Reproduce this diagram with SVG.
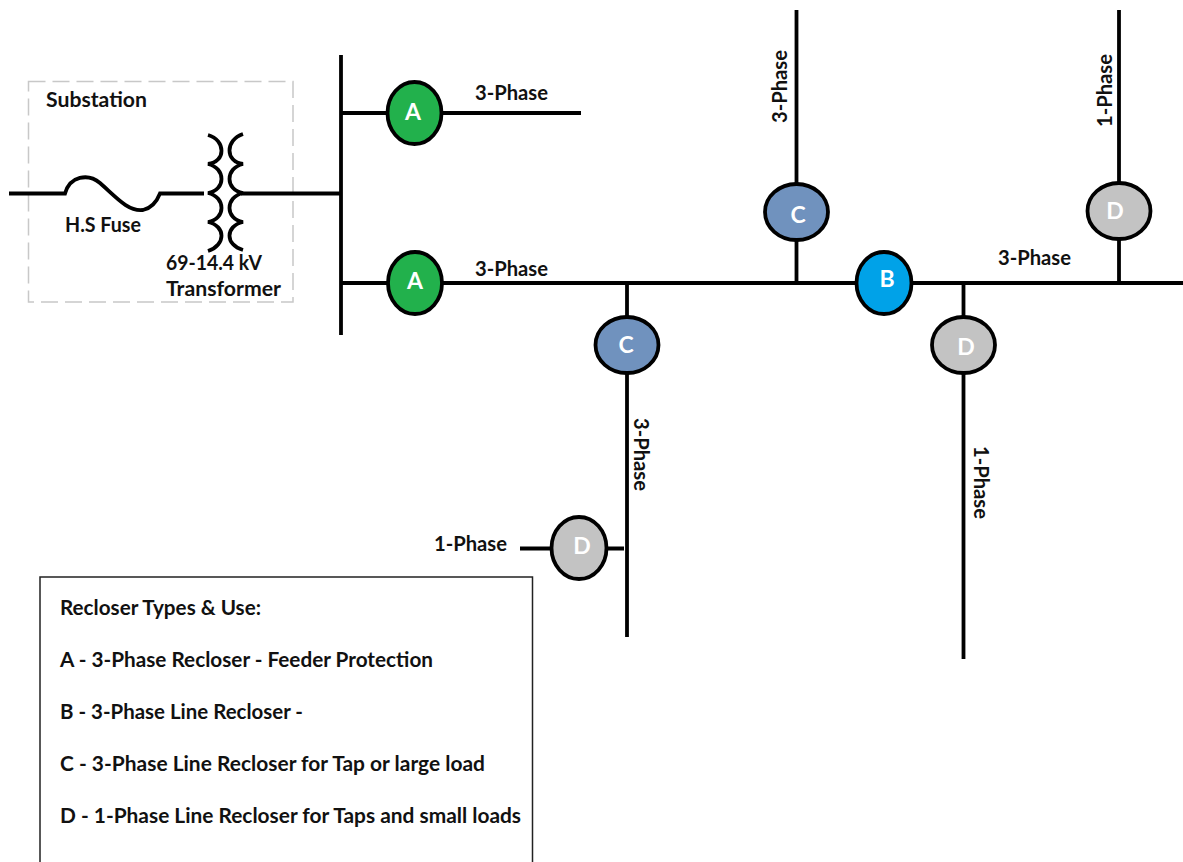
<svg xmlns="http://www.w3.org/2000/svg" width="1183" height="862" viewBox="0 0 1183 862">
<style>
text{font-family:Lato,"Liberation Sans",sans-serif;font-weight:700;font-size:20px;fill:#111}
.w{stroke:#000;stroke-width:3.8;fill:none}
.n{stroke:#000;stroke-width:3.8}
.l{font-size:23px;fill:#fff;text-anchor:middle;font-weight:700}
.a{fill:#22b14c}.b{fill:#00a2e8}.c{fill:#7092be}.d{fill:#c3c3c3}
</style>
<rect width="1183" height="862" fill="#fff"/>
<g id="substation">
<rect x="28.500" y="81.500" width="264.500" height="220.500" fill="none" stroke="#c8c8c8" stroke-width="1.500" stroke-dasharray="17 7"/>
<text x="46" y="107" textLength="101" lengthAdjust="spacingAndGlyphs">Substation</text>
<text x="65" y="232" textLength="76" lengthAdjust="spacingAndGlyphs">H.S Fuse</text>
<text x="166" y="270" textLength="96" lengthAdjust="spacingAndGlyphs">69-14.4 kV</text>
<text x="166" y="296" textLength="115" lengthAdjust="spacingAndGlyphs">Transformer</text>
</g>
<g id="connectors">
<path class="w" d="M9 193.500H65C70 176 88 173 100 183C115 196 128 212 143 210C152 208 157 201 160 193.500H204"/>
<path class="w" d="M208 135C226 140 226 162 208 164C226 168 226 190 208 193C226 197 226 219 208 222C226 226 226 245 208 251"/>
<path class="w" d="M243 134C225 140 225 162 243 164C225 168 225 190 243 193C225 197 225 219 243 222C225 226 225 245 243 250"/>
<path class="w" d="M241 193.500H341"/>
<path class="w" d="M341 55V335"/>
<path class="w" d="M341 113H581"/>
<path class="w" d="M341 283H1183"/>
<path class="w" d="M796.500 10V285"/>
<path class="w" d="M1119 10V285"/>
<path class="w" d="M627 283V637"/>
<path class="w" d="M963.500 283V659"/>
<path class="w" d="M520 548.500H550M607 548.500H624"/>
</g>
<g id="recloser-a1"><ellipse class="n a" cx="414.500" cy="113" rx="27" ry="31"/><text class="l" x="413" y="120">A</text></g>
<g id="recloser-a2"><ellipse class="n a" cx="415" cy="283" rx="27" ry="31"/><text class="l" x="415" y="289">A</text></g>
<g id="recloser-c1"><ellipse class="n c" cx="796.500" cy="212" rx="31.500" ry="28"/><text class="l" x="798" y="223">C</text></g>
<g id="recloser-b"><ellipse class="n b" cx="884" cy="283" rx="27.500" ry="31"/><text class="l" x="887" y="287">B</text></g>
<g id="recloser-d1"><ellipse class="n d" cx="1119" cy="211" rx="31.500" ry="28"/><text class="l" x="1115" y="219">D</text></g>
<g id="recloser-c2"><ellipse class="n c" cx="627" cy="345" rx="31.500" ry="28"/><text class="l" x="626" y="353">C</text></g>
<g id="recloser-d2"><ellipse class="n d" cx="963.500" cy="345" rx="31.500" ry="28"/><text class="l" x="966" y="355">D</text></g>
<g id="recloser-d3"><ellipse class="n d" cx="579" cy="548" rx="27.500" ry="31"/><text class="l" x="582" y="554">D</text></g>
<g id="labels">
<text x="475" y="100" textLength="73" lengthAdjust="spacingAndGlyphs">3-Phase</text>
<text x="475" y="276" textLength="73" lengthAdjust="spacingAndGlyphs">3-Phase</text>
<text x="998" y="265" textLength="73" lengthAdjust="spacingAndGlyphs">3-Phase</text>
<text x="434" y="551" textLength="73" lengthAdjust="spacingAndGlyphs">1-Phase</text>
<text transform="translate(787 123) rotate(-90)" textLength="73" lengthAdjust="spacingAndGlyphs">3-Phase</text>
<text transform="translate(1112 127) rotate(-90)" textLength="73" lengthAdjust="spacingAndGlyphs">1-Phase</text>
<text transform="translate(634 418) rotate(90)" textLength="73" lengthAdjust="spacingAndGlyphs">3-Phase</text>
<text transform="translate(974 446) rotate(90)" textLength="73" lengthAdjust="spacingAndGlyphs">1-Phase</text>
</g>
<g id="legend">
<path d="M40 862V577H532.500V862" fill="none" stroke="#222" stroke-width="1.500"/>
<text x="60" y="615" textLength="201" lengthAdjust="spacingAndGlyphs">Recloser Types &amp; Use:</text>
<text x="60" y="667" textLength="373" lengthAdjust="spacingAndGlyphs">A - 3-Phase Recloser - Feeder Protection</text>
<text x="60" y="719" textLength="243" lengthAdjust="spacingAndGlyphs">B - 3-Phase Line Recloser -</text>
<text x="60" y="771" textLength="425" lengthAdjust="spacingAndGlyphs">C - 3-Phase Line Recloser for Tap or large load</text>
<text x="60" y="823" textLength="461" lengthAdjust="spacingAndGlyphs">D - 1-Phase Line Recloser for Taps and small loads</text>
</g>
</svg>
